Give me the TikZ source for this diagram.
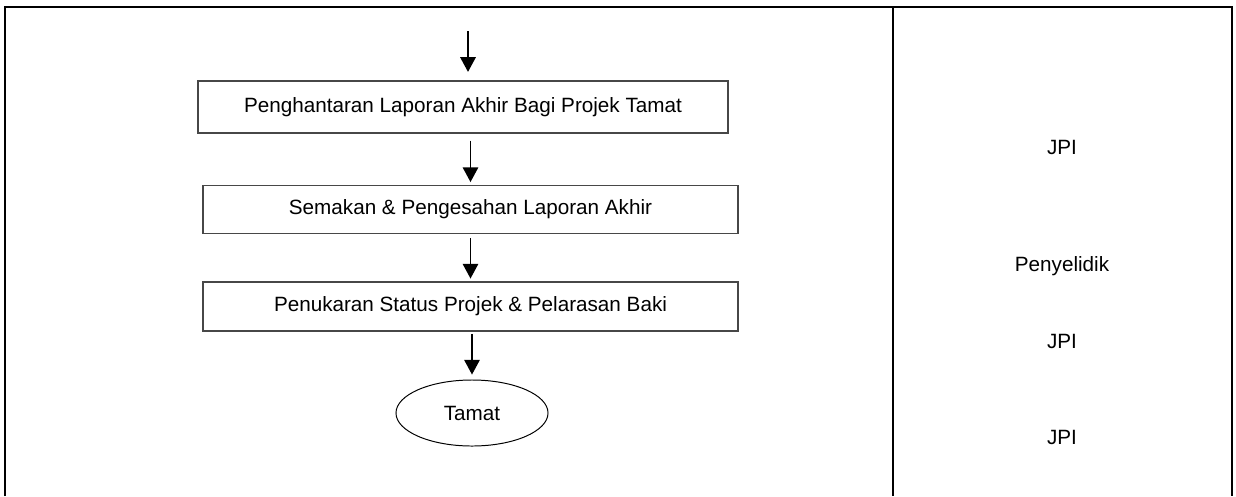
\documentclass[tikz,border=0pt]{standalone}
\usepackage{fontspec}
\setmainfont{Liberation Sans}
\usetikzlibrary{arrows.meta, shapes.geometric}

\tikzset{
  stepbox/.style={rectangle, draw=black!72, line width=0.9pt, inner sep=0pt, font=\fontsize{14.7}{17}\selectfont},
  endoval/.style={ellipse, draw=black, line width=0.7pt, inner sep=0pt, minimum width=3.8cm, minimum height=1.65cm, font=\fontsize{14.7}{17}\selectfont},
  who/.style={inner sep=0pt, font=\fontsize{14.7}{17}\selectfont},
  arr/.style={line width=1.2pt, -{Triangle[width=11pt,length=10.5pt]}},
  frame/.style={line width=1.7pt}
}

\begin{document}
\begin{tikzpicture}[x=0.025cm, y=-0.025cm]
            \useasboundingbox (0,0) rectangle (1236,496);

            % outer frame, open at the bottom
            \draw[frame] (5,496) -- (5,7) -- (1232,7) -- (1232,496);
            \draw[frame] (893,7) -- (893,496);

            % flow steps
            \coordinate (entry) at (468,31);
            \node[stepbox, minimum width=13.25cm, minimum height=1.3cm] (hantar) at (463,107) {Penghantaran Laporan Akhir Bagi Projek Tamat};
            \node[stepbox, minimum width=13.375cm, minimum height=1.2cm] (semak) at (470.5,209.5) {Semakan \& Pengesahan Laporan Akhir};
            \node[stepbox, minimum width=13.375cm, minimum height=1.225cm] (tukar) at (470.5,306.5) {Penukaran Status Projek \& Pelarasan Baki};
            \node[endoval] (tamat) at (472,413) {Tamat};

            % who is responsible
            \node[who] (jpia) at (1062,147) {JPI};
            \node[who] (penyelidik) at (1062,266) {Penyelidik};
            \node[who] (jpib) at (1062,341) {JPI};
            \node[who] (jpic) at (1062,437) {JPI};

            \draw[arr, shorten >=6pt] (entry) -- (entry |- hantar.north);
            \draw[arr, shorten <=5pt, shorten >=2pt] (hantar.south -| semak.north) -- (semak.north);
            \draw[arr, shorten <=3pt, shorten >=2pt] (semak.south) -- (tukar.north);
            \draw[arr, shorten <=1.5pt, shorten >=3.5pt] (tukar.south -| tamat.north) -- (tamat.north);
\end{tikzpicture}
\end{document}
